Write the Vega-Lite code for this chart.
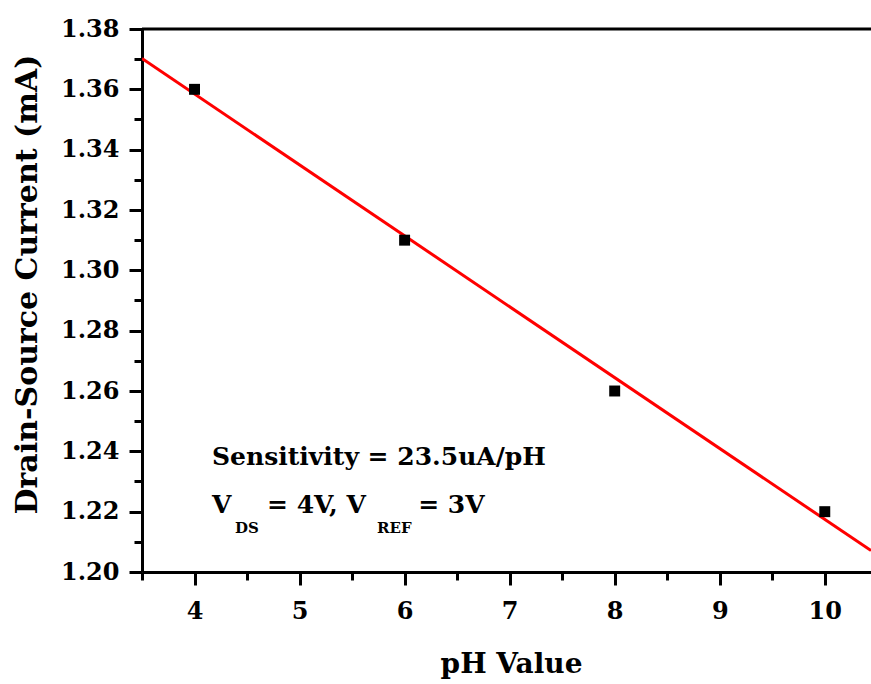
{
  "$schema": "https://vega.github.io/schema/vega-lite/v6.json",
  "width": 729,
  "height": 543,
  "autosize": {"type": "none"},
  "padding": {"left": 142, "top": 29, "right": 0, "bottom": 112},
  "background": "white",
  "view": {"stroke": null},
  "config": {
    "font": "DejaVu Serif",
    "axis": {
      "domainColor": "black", "domainWidth": 3, "tickColor": "black", "tickWidth": 3,
      "labelFont": "DejaVu Serif", "labelFontWeight": "bold", "labelFontSize": 24, "labelColor": "black",
      "titleFont": "DejaVu Serif", "titleFontWeight": "bold", "titleColor": "black",
      "grid": false
    }
  },
  "datasets": {
    "points": [
      {"pH": 4, "current": 1.36},
      {"pH": 6, "current": 1.31},
      {"pH": 8, "current": 1.26},
      {"pH": 10, "current": 1.22}
    ],
    "fit": [
      {"pH": 3.5, "current": 1.3702},
      {"pH": 10.44, "current": 1.2071}
    ],
    "notes": [
      {"x": 4.167, "y": 1.2355, "label": "Sensitivity = 23.5uA/pH", "kind": "main"},
      {"x": 4.167, "y": 1.2196, "label": "V", "kind": "main"},
      {"x": 4.69, "y": 1.2196, "label": "= 4V, V", "kind": "main"},
      {"x": 6.129, "y": 1.2196, "label": "= 3V", "kind": "main"},
      {"x": 4.386, "y": 1.2129, "label": "DS", "kind": "sub"},
      {"x": 5.738, "y": 1.2129, "label": "REF", "kind": "sub"}
    ]
  },
  "encoding": {
    "x": {
      "field": "pH", "type": "quantitative",
      "scale": {"domain": [3.5, 10.44], "nice": false, "zero": false},
      "axis": {
        "title": "pH Value", "titlePadding": 27, "titleFontSize": 28, "titleX": 369,
        "values": [3.5, 4, 4.5, 5, 5.5, 6, 6.5, 7, 7.5, 8, 8.5, 9, 9.5, 10],
        "labelExpr": "datum.value % 1 === 0 ? format(datum.value, 'd') : ''",
        "tickSize": {"condition": {"test": "datum.value % 1 === 0", "value": 13}, "value": 8},
        "labelPadding": 14, "labelFlush": false, "labelOverlap": false
      }
    },
    "y": {
      "field": "current", "type": "quantitative",
      "scale": {"domain": [1.2, 1.38], "nice": false, "zero": false},
      "axis": {
        "title": "Drain-Source Current (mA)", "titlePadding": 18, "titleFontSize": 30, "titleY": 255,
        "values": [1.2, 1.21, 1.22, 1.23, 1.24, 1.25, 1.26, 1.27, 1.28, 1.29, 1.3, 1.31, 1.32, 1.33, 1.34, 1.35, 1.36, 1.37, 1.38],
        "labelExpr": "round(datum.value * 100) % 2 === 0 ? format(datum.value, '.2f') : ''",
        "tickSize": {"condition": {"test": "round(datum.value * 100) % 2 === 0", "value": 13}, "value": 8},
        "labelPadding": 10, "labelFlush": false, "labelOverlap": false
      }
    }
  },
  "layer": [
    {
      "data": {"name": "fit"},
      "mark": {"type": "line", "color": "#ff0000", "strokeWidth": 3, "clip": true}
    },
    {
      "data": {"name": "points"},
      "mark": {"type": "square", "color": "black", "filled": true, "opacity": 1, "size": 120}
    },
    {
      "data": {"values": [{"v": 1.38}]},
      "mark": {"type": "rule", "color": "black", "strokeWidth": 3},
      "encoding": {"y": {"field": "v", "type": "quantitative"}, "x": null}
    },
    {
      "data": {"name": "notes"},
      "transform": [{"filter": "datum.kind === 'main'"}],
      "mark": {"type": "text", "align": "left", "baseline": "alphabetic", "fontSize": 25, "fontWeight": "bold", "font": "DejaVu Serif", "color": "black"},
      "encoding": {
        "x": {"field": "x", "type": "quantitative"},
        "y": {"field": "y", "type": "quantitative"},
        "text": {"field": "label"}
      }
    },
    {
      "data": {"name": "notes"},
      "transform": [{"filter": "datum.kind === 'sub'"}],
      "mark": {"type": "text", "align": "left", "baseline": "alphabetic", "fontSize": 15, "fontWeight": "bold", "font": "DejaVu Serif", "color": "black"},
      "encoding": {
        "x": {"field": "x", "type": "quantitative"},
        "y": {"field": "y", "type": "quantitative"},
        "text": {"field": "label"}
      }
    }
  ]
}
